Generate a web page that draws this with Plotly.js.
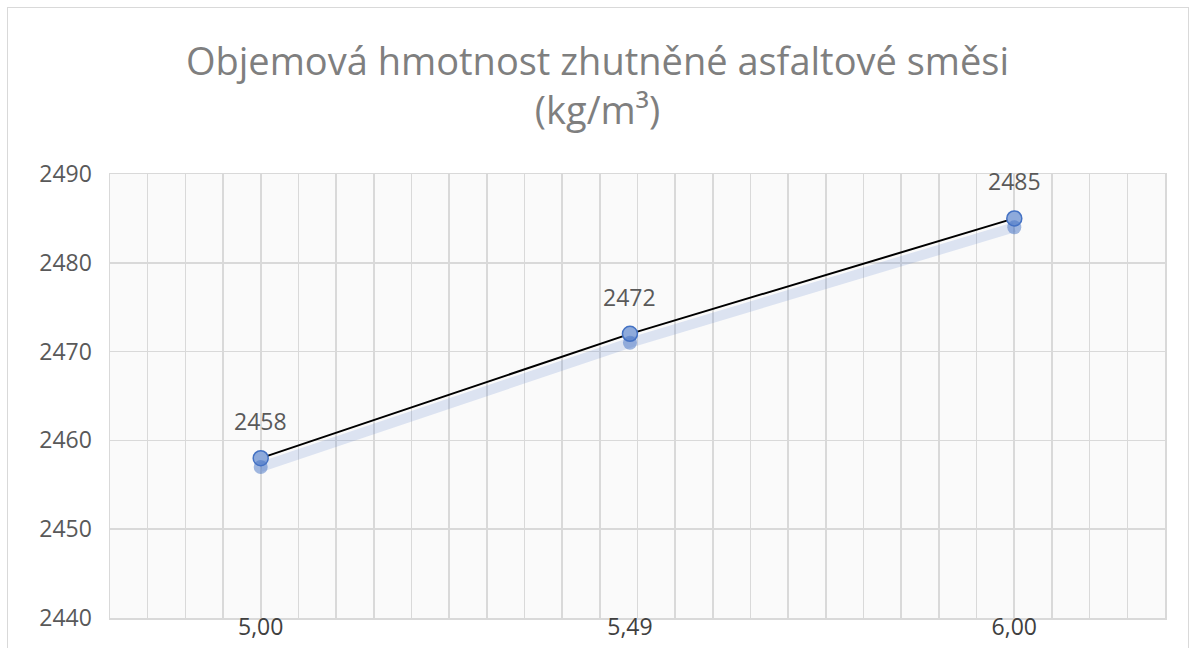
<!DOCTYPE html>
<html>
<head>
<meta charset="utf-8">
<script src="https://cdn.plot.ly/plotly-3.0.1.min.js"></script>
<style>
  html, body { margin: 0; padding: 0; background: #ffffff; }
  #wrap { position: relative; width: 1195px; height: 648px; overflow: hidden; }
  #frame { position: absolute; left: 7px; top: 7px; width: 1182px; height: 700px; border: 1.5px solid #d9d9d9; box-sizing: border-box; pointer-events: none; }
  #chart { position: absolute; left: 0; top: 0; width: 1195px; height: 648px; }
</style>
</head>
<body>
<div id="wrap">
  <div id="chart"></div>
  <div id="frame"></div>
</div>
<script>
// Data
const binderContent = [5.00, 5.49, 6.00];           // x values (%)
const bulkDensity   = [2458, 2472, 2485];           // y values (kg/m3)
const xTickLabels   = ['5,00', '5,49', '6,00'];
const yTicks        = [2440, 2450, 2460, 2470, 2480, 2490];
const titleText     = 'Objemová hmotnost zhutněné asfaltové směsi<br>(kg/m³)';

const FONT = 'Open Sans, Noto Sans, sans-serif';

const shadow = {
  x: binderContent, y: bulkDensity,
  xaxis: 'x', yaxis: 'y2',
  type: 'scatter', mode: 'lines+markers',
  line: { color: 'rgba(68,114,196,0.16)', width: 10 },
  marker: { size: 14, color: 'rgba(68,114,196,0.5)', line: { width: 0 } },
  hoverinfo: 'skip', showlegend: false
};

const main = {
  x: binderContent, y: bulkDensity,
  type: 'scatter', mode: 'lines+markers',
  line: { color: '#000000', width: 2 },
  marker: { size: 15, color: '#8eaadb', line: { color: '#4472c4', width: 1.5 } },
  showlegend: false
};

const labels = binderContent.map((xv, i) => ({
  x: xv, y: bulkDensity[i], xref: 'x', yref: 'y',
  text: String(bulkDensity[i]), showarrow: false,
  yshift: 37, font: { family: FONT, size: 23, color: '#595959' }
}));

const layout = {
  width: 1195, height: 648,
  margin: { l: 110, r: 30, t: 174, b: 30 },
  paper_bgcolor: 'rgba(0,0,0,0)',
  plot_bgcolor: '#fafafa',
  title: {
    text: titleText,
    font: { family: FONT, size: 38, color: '#7f7f7f' },
    x: 0.5, xref: 'container', xanchor: 'center',
    y: 0.885, yref: 'container', yanchor: 'top'
  },
  annotations: labels,
  xaxis: {
    range: [4.8, 6.2],
    tickmode: 'array', tickvals: binderContent, ticktext: xTickLabels,
    showgrid: false, zeroline: false,
    ticks: '', ticklabelstandoff: -12,
    tickfont: { family: FONT, size: 23, color: '#404040' },
    showline: true, mirror: true, linecolor: '#d9d9d9', linewidth: 1.5,
    minor: { tickmode: 'linear', tick0: 4.8, dtick: 0.05, showgrid: true, gridcolor: '#d9d9d9', gridwidth: 1.6, ticks: '' }
  },
  yaxis: {
    range: [2440, 2490],
    tickmode: 'array', tickvals: yTicks,
    showgrid: true, gridcolor: '#d9d9d9', gridwidth: 1.6,
    zeroline: false, ticks: '', ticklabelstandoff: 12,
    tickfont: { family: FONT, size: 23, color: '#595959' },
    showline: true, mirror: true, linecolor: '#d9d9d9', linewidth: 1.5
  },
  yaxis2: {
    overlaying: 'y', range: [2441, 2491],
    showgrid: false, showticklabels: false, zeroline: false, showline: false
  }
};

Plotly.newPlot('chart', [shadow, main], layout, { displayModeBar: false, staticPlot: true });
</script>
</body>
</html>
